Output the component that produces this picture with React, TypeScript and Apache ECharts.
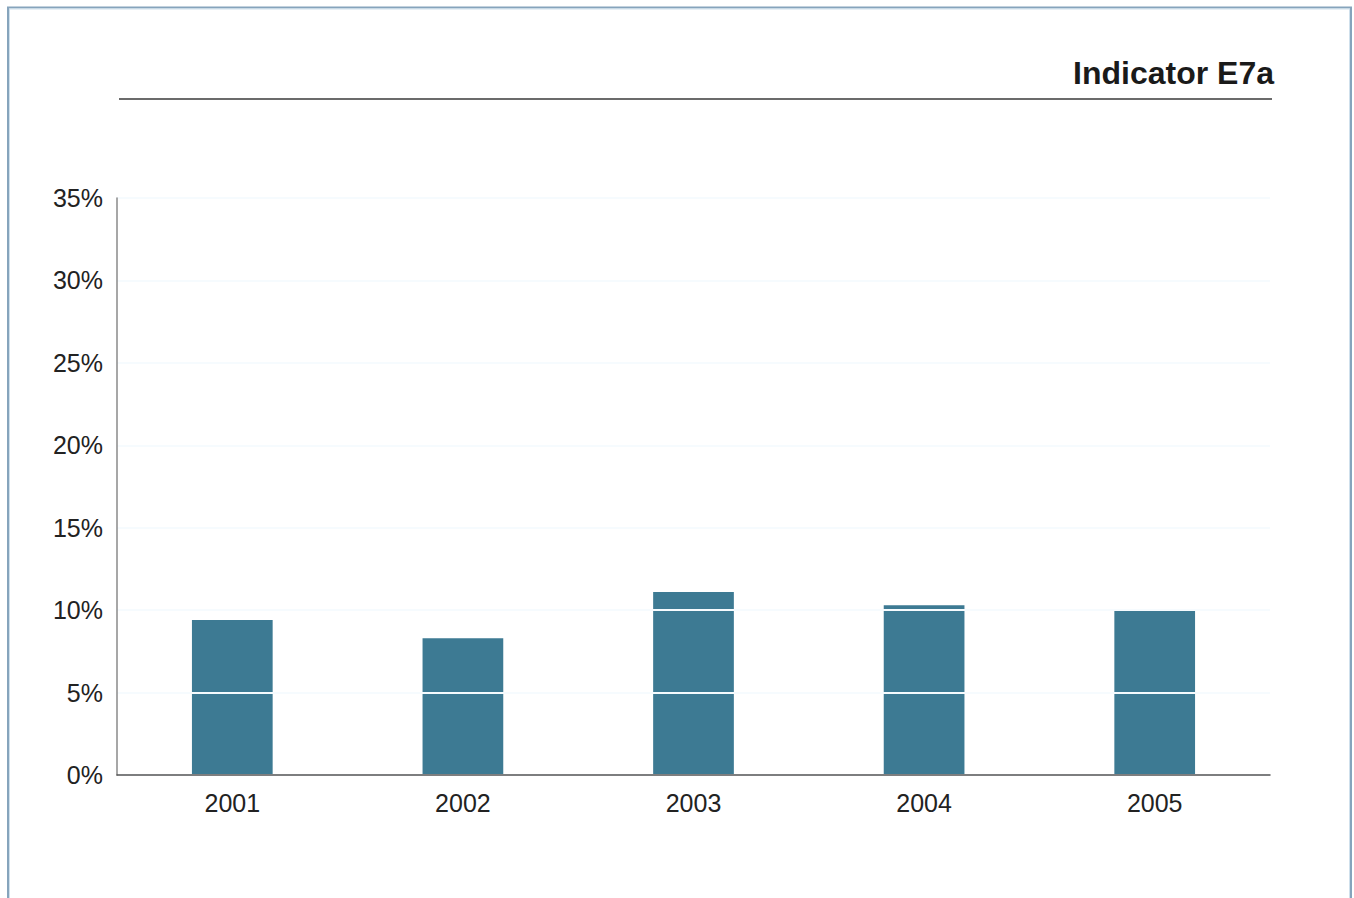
import React, { useEffect, useRef } from "react";
import * as echarts from "echarts";

const years = ["2001", "2002", "2003", "2004", "2005"];
const shares = [9.4, 8.3, 11.1, 10.3, 9.95];
const yTicks = { min: 0, max: 35, interval: 5 };
const titleText = "Indicator E7a";

export default function App() {
  const ref = useRef<HTMLDivElement>(null);
  useEffect(() => {
    if (!ref.current) return;
    const chart = echarts.init(ref.current, null, { renderer: "svg" });
    chart.setOption({
      animation: false,
      backgroundColor: "#ffffff",
      textStyle: { fontFamily: "Liberation Sans, Arial, sans-serif" },
      graphic: [
        {
          type: "rect",
          shape: { x: 8, y: 7.5, width: 1343, height: 1000 },
          style: { fill: "none", stroke: "#86a4bc", lineWidth: 2 },
          silent: true,
        },
        {
          type: "rect",
          shape: { x: 9.5, y: 9, width: 1340, height: 1000 },
          style: { fill: "none", stroke: "#cfe0ec", lineWidth: 1 },
          silent: true,
        },
        {
          type: "line",
          shape: { x1: 119, y1: 99, x2: 1272, y2: 99 },
          style: { stroke: "#3a3a3a", lineWidth: 1.5 },
          silent: true,
        },
        {
          type: "text",
          x: 1274,
          y: 73,
          style: {
            text: titleText,
            align: "right",
            verticalAlign: "middle",
            font: "bold 32px 'Liberation Sans', Arial, sans-serif",
            fill: "#1a1a1a",
          },
        },
      ],
      grid: { left: 117, top: 198, right: 84, bottom: 123, containLabel: false },
      xAxis: {
        type: "category",
        data: years,
        z: 6,
        axisLine: { show: true, lineStyle: { color: "#555555", width: 1.5 } },
        axisTick: { show: false },
        axisLabel: { color: "#222222", fontSize: 25, margin: 15 },
        splitLine: { show: false },
      },
      yAxis: {
        type: "value",
        min: yTicks.min,
        max: yTicks.max,
        interval: yTicks.interval,
        z: 5,
        axisLine: { show: true, lineStyle: { color: "#8a8a8a", width: 1.5 } },
        axisTick: { show: false },
        axisLabel: { color: "#222222", fontSize: 25, margin: 14, formatter: "{value}%" },
        splitLine: { show: true, lineStyle: { color: "#f6fbfe", width: 2 } },
      },
      series: [
        {
          type: "bar",
          data: shares,
          barWidth: "35%",
          itemStyle: { color: "#3d7a93" },
        },
      ],
    });
    return () => chart.dispose();
  }, []);
  return (
    <div
      ref={ref}
      style={{ position: "absolute", left: 0, top: 0, width: 1354, height: 898 }}
    />
  );
}
